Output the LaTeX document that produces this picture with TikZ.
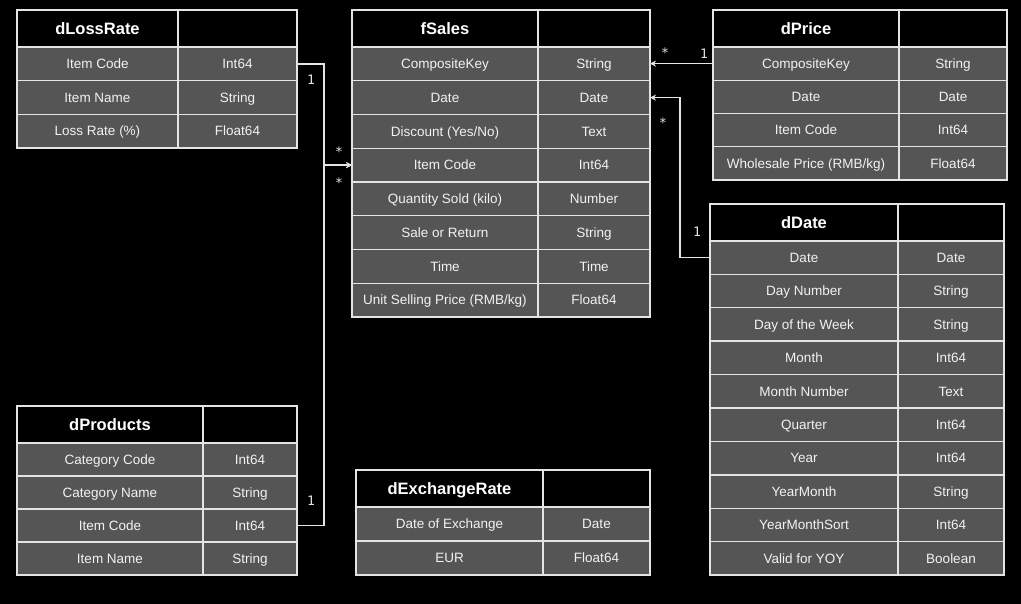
\documentclass[tikz,border=0pt]{standalone}
\usepackage{fontspec}
\setmainfont{Liberation Sans}
\newfontfamily\monof{DejaVu Sans Mono}
\usetikzlibrary{arrows.meta}
\definecolor{cellgray}{HTML}{555555}
\definecolor{linegray}{HTML}{E4E4E4}
\definecolor{txt}{HTML}{F2F2F2}
\tikzset{
  cellbase/.style={draw=linegray, line width=1.4pt, outer sep=0pt, inner sep=0pt, anchor=north west, text=txt},
  hdrcell/.style={cellbase, fill=black, text=white, font=\fontsize{16.5}{18}\selectfont\bfseries, text height=12pt, text depth=0pt},
  rowcell/.style={cellbase, fill=cellgray, font=\fontsize{13.5}{15}\selectfont, text height=10pt, text depth=0.4pt},
  conn/.style={draw=linegray, line width=1.4pt, -{Stealth[length=6pt,width=6pt]}},
  card/.style={text=linegray, font=\monof\fontsize{13}{14}\selectfont},
}
% name, x, y, w1, w2, row height, title, rows
\newcommand\ertable[8]{%
  \node[hdrcell, minimum width=#4, minimum height=37] (#1-h) at (#2,#3) {#7};
  \node[hdrcell, minimum width=#5, minimum height=37] (#1-hb) at (#2+#4,#3) {};
  \foreach \f/\t [count=\i] in {#8} {
    \pgfmathsetmacro\yy{#3+37+(\i-1)*#6}
    \node[rowcell, minimum width=#4, minimum height=#6] (#1-\i-a) at (#2,\yy) {\f};
    \node[rowcell, minimum width=#5, minimum height=#6] (#1-\i-b) at (#2+#4,\yy) {\t};
  }%
}
\begin{document}
\begin{tikzpicture}[x=1pt,y=-1pt]
\fill[black] (0,0) rectangle (1021,604);
\useasboundingbox (0,0) rectangle (1021,604);

\ertable{dLossRate}{17}{10}{161}{119}{33.67}{dLossRate}{Item Code/Int64, Item Name/String, Loss Rate (\%)/Float64}
\ertable{fSales}{352}{10}{186}{112}{33.75}{fSales}{CompositeKey/String, Date/Date, {Discount (Yes/No)}/Text, Item Code/Int64, Quantity Sold (kilo)/Number, Sale or Return/String, Time/Time, {Unit Selling Price (RMB/kg)}/Float64}
\ertable{dPrice}{713}{10}{186}{108}{33.25}{dPrice}{CompositeKey/String, Date/Date, Item Code/Int64, {Wholesale Price (RMB/kg)}/Float64}
\ertable{dDate}{710}{204}{188}{106}{33.4}{dDate}{Date/Date, Day Number/String, Day of the Week/String, Month/Int64, Month Number/Text, Quarter/Int64, Year/Int64, YearMonth/String, YearMonthSort/Int64, Valid for YOY/Boolean}
\ertable{dProducts}{17}{406}{186}{94}{33}{dProducts}{Category Code/Int64, Category Name/String, Item Code/Int64, Item Name/String}
\ertable{dExchangeRate}{356}{470}{187}{107}{34}{dExchangeRate}{Date of Exchange/Date, EUR/Float64}

% connectors
\draw[conn] (dLossRate-1-b.east) -- ++(27,0) |- (fSales-4-a.west);
\draw[conn] (dProducts-3-b.east) -- ++(27,0) |- (fSales-4-a.west);
\draw[conn] (dPrice-1-a.west) -- (dPrice-1-a.west -| fSales-1-b.east);
\draw[conn] (dDate-1-a.west) -- ++(-30,0) |- (fSales-2-b.east);

% cardinalities
\node[card] (c1) at (311,80) {1};
\node[card] (c2) at (311,501) {1};
\node[card] (c3) at (339,152) {*};
\node[card] (c4) at (339,183) {*};
\node[card] (c5) at (665,53) {*};
\node[card] (c6) at (704,54) {1};
\node[card] (c7) at (663,123) {*};
\node[card] (c8) at (697,232) {1};
\end{tikzpicture}
\end{document}
